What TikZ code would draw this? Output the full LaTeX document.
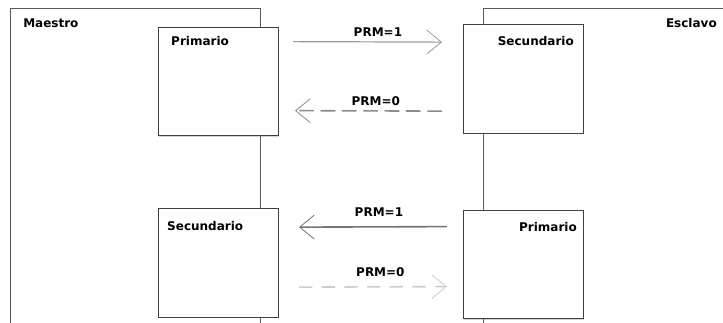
\documentclass[tikz,border=0pt]{standalone}
\usepackage{fontspec}
\setmainfont{DejaVu Sans}
\usetikzlibrary{positioning,calc,arrows.meta,shadows}

\tikzset{
  caja/.style={draw=black!75, fill=white, line width=0.8pt, inner sep=0pt,
    minimum width=90pt, minimum height=81.5pt,
    drop shadow={shadow xshift=0.7pt, shadow yshift=-0.7pt, opacity=0.35}},
  marco/.style={draw=black!65, line width=0.7pt},
  texto/.style={font=\fontsize{9}{11}\selectfont\bfseries, inner sep=0pt},
  flecha/.style={-{Straight Barb[length=11pt,width=18pt,line width=0.6pt 0]}, line width=0.9pt},
}

\begin{document}
\begin{tikzpicture}[x=0.75pt, y=-0.75pt]
    \useasboundingbox (0,0) rectangle (723,323);

    % Maestro
    \draw[marco] (10,323) -- (10,8) -- (260,8) -- (260,323);
    \node[texto, anchor=base west] (maestro) at (23,28) {Maestro};
    \node[caja] (pm) at (218.5,81.5) {};
    \node[caja] (sm) at (218.5,263) {};
    \node[texto, anchor=base west] (tpm) at ($(pm.north west)+(13,19)$) {Primario};
    \node[texto, anchor=base west] (tsm) at ($(sm.north west)+(9,22)$) {Secundario};

    % Esclavo
    \draw[marco] (483,323) -- (483,8) -- (723,8);
    \node[texto, anchor=base east] (esclavo) at (717,28) {Esclavo};
    \node[caja] (ss) at (523.5,79) {};
    \node[caja] (pe) at (523.5,264.5) {};
    \node[texto, anchor=base east] (tss) at ($(ss.north east)+(-10,21)$) {Secundario};
    \node[texto, anchor=base east] (tpe) at ($(pe.north east)+(-7,22)$) {Primario};

    % Mensajes
    \draw[flecha, black!40] ($(pm.north east)+(14,15)$) -- ($(ss.north west)+(-21,18)$)
        node[texto, black, pos=0.57, anchor=base, yshift=3.75pt] {PRM=1};
    \draw[flecha, black!45, line width=1.2pt, dash pattern=on 11pt off 5pt]
        ($(ss.north west)+(-21,87)$) -- ($(pm.north east)+(16,84)$)
        node[texto, black, pos=0.45, anchor=base, yshift=3.75pt] {PRM=0};
    \draw[flecha, black!55, line width=1.2pt] ($(pe.north west)+(-16,17)$) -- ($(sm.north east)+(20,19)$)
        node[texto, black, pos=0.46, anchor=base, yshift=7.5pt] {PRM=1};
    \draw[flecha, black!20, line width=1.2pt, dash pattern=on 10pt off 7pt]
        ($(sm.north east)+(20,79)$) -- ($(pe.north west)+(-16,77)$)
        node[texto, black, pos=0.55, anchor=base, yshift=7.5pt] {PRM=0};
\end{tikzpicture}
\end{document}
